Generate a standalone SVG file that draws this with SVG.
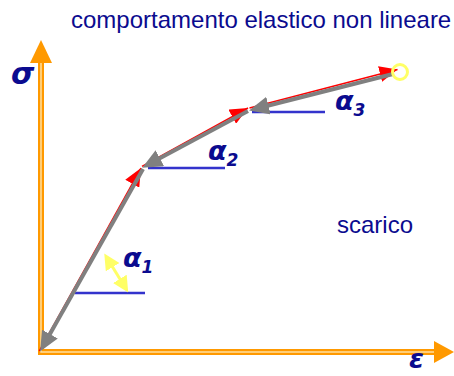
<svg xmlns="http://www.w3.org/2000/svg" width="454" height="376" viewBox="0 0 454 376">
<style>
.t{font-family:"Liberation Sans",Arial,sans-serif;fill:#0b0b8f}
.g{font-family:"DejaVu Sans","Liberation Sans",sans-serif;font-weight:bold;font-style:italic;fill:#0b0b8f}
.red{stroke:#ff0000;stroke-width:1.5;fill:none}
.gray{stroke:#808080;stroke-width:4;fill:none}
.blue{stroke:#3333cc;stroke-width:2.5}
</style>
<defs>
<marker id="ra" markerUnits="userSpaceOnUse" markerWidth="19" markerHeight="16" refX="18" refY="8" orient="auto"><path d="M0,0 L18,8 L0,16 z" fill="#ff0000"/></marker>
<marker id="ga" markerUnits="userSpaceOnUse" markerWidth="21" markerHeight="18" refX="8" refY="9" orient="auto"><path d="M0,0 L20,9 L0,18 z" fill="#808080"/></marker>
<marker id="ya" markerUnits="userSpaceOnUse" markerWidth="16" markerHeight="16" refX="6" refY="8" orient="auto"><path d="M0,0 L16,8 L0,16 z" fill="#ffff66"/></marker>
<marker id="ys" markerUnits="userSpaceOnUse" markerWidth="16" markerHeight="16" refX="10" refY="8" orient="auto"><path d="M16,0 L0,8 L16,16 z" fill="#ffff66"/></marker>
</defs>
<g id="axes">
<path d="M41,62 L41,352 L436,352" fill="none" stroke="#ff9900" stroke-width="6"/>
<path d="M41,62 L41,352 L436,352" fill="none" stroke="#ffe0a0" stroke-width="1.5"/>
<path d="M41,40 L52,63 L30,63 z" fill="#ff9900"/>
<path d="M454,352 L434,341 L434,363 z" fill="#ff9900"/>
</g>
<g id="baselines">
<line class="blue" x1="75" y1="293" x2="145" y2="293"/>
<line class="blue" x1="148" y1="168" x2="225" y2="168"/>
<line class="blue" x1="252" y1="112" x2="325" y2="112"/>
</g>
<g id="connectors">
<line class="red" x1="39.3" y1="351" x2="141" y2="168" marker-end="url(#ra)"/>
<line class="red" x1="142" y1="166.3" x2="248" y2="108" marker-end="url(#ra)"/>
<line class="red" x1="249.5" y1="108.1" x2="397.5" y2="69.5" marker-end="url(#ra)"/>
<line class="gray" x1="393" y1="74" x2="260.7" y2="107.5" marker-end="url(#ga)"/>
<line class="gray" x1="248" y1="111" x2="152.8" y2="162" marker-end="url(#ga)"/>
<line class="gray" x1="143" y1="169" x2="46" y2="341" marker-end="url(#ga)"/>
<line x1="109.5" y1="262" x2="123" y2="284" stroke="#ffff66" stroke-width="3" marker-start="url(#ys)" marker-end="url(#ya)"/>
</g>
<circle id="endpoint" cx="400" cy="72" r="7.5" fill="none" stroke="#ffff66" stroke-width="3"/>
<g id="labels">
<text class="t" x="71" y="28" font-size="24">comportamento elastico non lineare</text>
<text class="t" x="337" y="233" font-size="24">scarico</text>
<text class="g" x="11" y="84" font-size="30">σ</text>
<text class="g" x="409" y="368" font-size="27">ε</text>
<text class="g" x="123" y="267" font-size="27">α<tspan font-size="17" dy="6">1</tspan></text>
<text class="g" x="208" y="160" font-size="27">α<tspan font-size="17" dy="6">2</tspan></text>
<text class="g" x="335" y="110" font-size="27">α<tspan font-size="17" dy="6">3</tspan></text>
</g>
</svg>
